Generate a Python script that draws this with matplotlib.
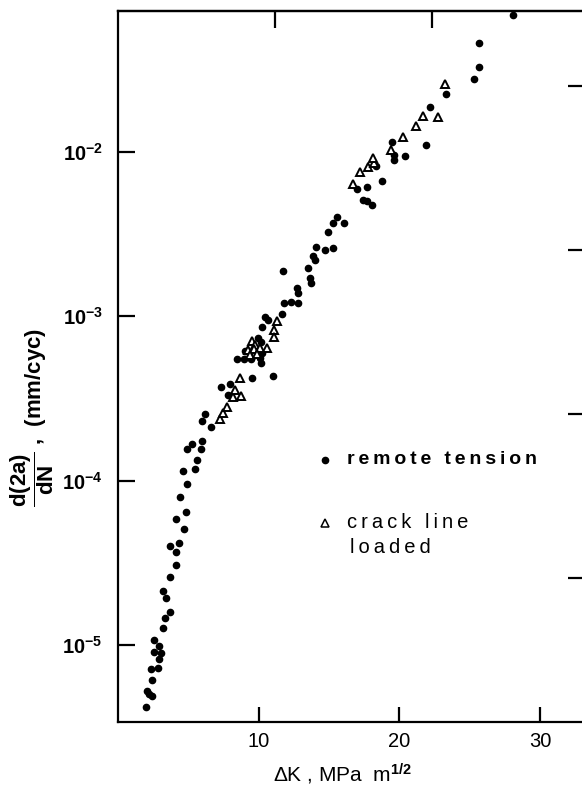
import numpy as np
import matplotlib
matplotlib.use('Agg')
import matplotlib.pyplot as plt
from matplotlib.ticker import NullLocator

plt.rcParams['font.family'] = ['Liberation Sans', 'DejaVu Sans']
plt.rcParams['mathtext.fontset'] = 'custom'
plt.rcParams['mathtext.rm'] = 'Liberation Sans'
plt.rcParams['mathtext.it'] = 'Liberation Sans:italic'
plt.rcParams['mathtext.bf'] = 'Liberation Sans:bold'

# remote tension (filled dots): delta K [MPa m^1/2], d(2a)/dN [mm/cyc]
dk_remote = [1.99, 2.08, 2.22, 2.42, 2.40, 2.35, 2.84, 2.94, 3.03, 2.54, 2.94, 2.54, 3.18, 3.36, 3.72, 3.43, 3.18, 3.72, 4.12,
             4.12, 3.70, 4.31, 4.71, 4.12, 4.83, 4.43, 4.88, 4.60, 5.47, 5.59, 5.88, 4.88, 5.26, 5.95, 5.97, 6.18, 6.61,
             7.32, 7.96, 7.84, 9.55, 11.00, 8.44, 8.96, 9.45, 10.18, 10.09, 9.03, 10.21, 9.97, 10.16, 10.21, 10.47, 10.68,
             11.66, 11.80, 12.27, 12.79, 12.70, 12.81, 11.75, 13.65, 13.72, 13.48, 13.88, 14.00, 14.07, 14.69, 15.30, 14.95, 15.26, 15.54, 16.08,
             17.68, 17.01, 17.39, 17.68, 18.03, 18.74, 18.34, 19.50, 19.64, 19.62, 20.40, 21.89, 22.17, 23.31, 25.28, 25.64, 25.66, 28.07]
rate_remote = [4.2e-6, 5.2e-6, 5.0e-6, 4.9e-6, 6.1e-6, 7.1e-6, 7.2e-6, 8.2e-6, 8.9e-6, 9.1e-6, 9.8e-6, 1.07e-5, 1.26e-5, 1.45e-5, 1.58e-5, 1.92e-5, 2.13e-5, 2.57e-5, 3.05e-5,
               3.66e-5, 4.01e-5, 4.18e-5, 5.07e-5, 5.81e-5, 6.46e-5, 7.91e-5, 9.48e-5, 1.14e-4, 1.17e-4, 1.33e-4, 1.56e-4, 1.56e-4, 1.68e-4, 1.74e-4, 2.31e-4, 2.53e-4, 2.11e-4,
               3.73e-4, 3.87e-4, 3.32e-4, 4.19e-4, 4.33e-4, 5.47e-4, 5.47e-4, 5.47e-4, 5.17e-4, 5.55e-4, 6.17e-4, 6.00e-4, 7.34e-4, 7.00e-4, 8.57e-4, 9.94e-4, 9.49e-4,
               1.04e-3, 1.20e-3, 1.22e-3, 1.20e-3, 1.48e-3, 1.38e-3, 1.88e-3, 1.70e-3, 1.59e-3, 1.98e-3, 2.33e-3, 2.20e-3, 2.64e-3, 2.52e-3, 2.59e-3, 3.26e-3, 3.71e-3, 4.04e-3, 3.71e-3,
               6.15e-3, 5.93e-3, 5.10e-3, 5.06e-3, 4.76e-3, 6.69e-3, 8.22e-3, 1.156e-2, 9.60e-3, 8.94e-3, 9.46e-3, 1.099e-2, 1.89e-2, 2.25e-2, 2.78e-2, 3.31e-2, 4.63e-2, 6.83e-2]

# crack line loaded (open triangles)
dk_crack = [7.22, 7.48, 7.73, 8.19, 8.71, 8.32, 8.67, 9.50, 9.77, 9.26, 9.67, 10.09, 10.61, 9.38, 9.89,
            11.32, 11.12, 11.11, 16.68, 17.20, 17.77, 18.19, 18.14, 19.38, 20.23, 21.18, 21.70, 22.74, 23.24]
rate_crack = [2.36e-4, 2.57e-4, 2.80e-4, 3.24e-4, 3.27e-4, 3.56e-4, 4.19e-4, 7.12e-4, 6.73e-4, 6.26e-4, 6.30e-4, 6.37e-4, 6.43e-4, 5.81e-4, 5.92e-4,
              9.40e-4, 8.30e-4, 7.51e-4, 6.36e-3, 7.59e-3, 8.14e-3, 8.64e-3, 9.16e-3, 1.028e-2, 1.24e-2, 1.44e-2, 1.66e-2, 1.63e-2, 2.58e-2]

x_ticks = [10, 20, 30]
x_ticks_top = [11.16, 22.32]
y_ticks = [1e-2, 1e-3, 1e-4, 1e-5]
y_tick_labels = [r'$\mathbf{10^{-2}}$', r'$\mathbf{10^{-3}}$', r'$\mathbf{10^{-4}}$', r'$\mathbf{10^{-5}}$']
in_ticks = [1e-3, 1e-4, 1e-5, 1e-6]

def spaced(s):
    '''
    open up the letters a little, like the typed original
    '''
    return '\u2009'.join(s)

fig = plt.figure(figsize=(5.82, 7.89), dpi=100)
ax = fig.add_axes([118/582, 67/789, 467/582, 711/789])

ax.plot(dk_remote, rate_remote, 'o', color='black', ms=4.5, clip_on=False, zorder=3)
ax.plot(dk_crack, rate_crack, '^', mfc='white', mec='black', mew=1.4, ms=6.2, clip_on=False, zorder=4)

ax.set_yscale('log')
ax.set_xlim(0, 33.2)
ax.set_ylim(10**-5.47, 10**-1.141)
ax.yaxis.set_minor_locator(NullLocator())

ax.set_xticks(x_ticks)
ax.set_xticklabels([str(t) for t in x_ticks], fontsize=14.5)
ax.set_yticks(y_ticks)
ax.set_yticklabels(y_tick_labels, fontsize=14.5)
ax.tick_params(axis='x', which='both', direction='in', length=11, width=1.6, pad=7, top=False)
ax.tick_params(axis='y', which='both', direction='in', length=12, width=1.6, pad=11, right=False)

top = ax.secondary_xaxis('top')
top.set_xticks(x_ticks_top)
top.tick_params(direction='in', length=12, width=1.6, labeltop=False)

right = ax.secondary_yaxis('right', functions=(lambda y: y / 25.4, lambda y: y * 25.4))
right.set_yticks(in_ticks)
right.yaxis.set_minor_locator(NullLocator())
right.tick_params(direction='in', length=12, width=1.6, labelright=False)

for s in ax.spines.values():
    s.set_linewidth(1.6)
top.spines['top'].set_linewidth(1.6)
right.spines['right'].set_linewidth(1.6)

ax.set_xlabel(r'$\Delta$K , MPa  m$^{\mathbf{1/2}}$', fontsize=15)
ax.xaxis.set_label_coords(0.48, -0.074)
ax.xaxis.label.set_va('center')

ax.set_ylabel(r'$\dfrac{\mathbf{d(2a)}}{\mathbf{dN}}$ ,  (mm/cyc)', fontsize=16, fontweight='bold')
ax.yaxis.set_label_coords(-0.184, 0.428)
ax.yaxis.label.set_va('center')

# key written inside the plot
ax.plot([0.443], [0.3685], 'o', color='black', ms=4.5, transform=ax.transAxes, clip_on=False)
ax.text(0.49, 0.3685, spaced('remote tension'), transform=ax.transAxes, fontsize=14,
        fontweight='bold', va='center', ha='left')
ax.plot([0.443], [0.280], '^', mfc='white', mec='black', mew=1.1, ms=5.5, transform=ax.transAxes, clip_on=False)
ax.text(0.49, 0.280, spaced('crack line'), transform=ax.transAxes, fontsize=14.5, va='center', ha='left')
ax.text(0.497, 0.246, spaced('loaded'), transform=ax.transAxes, fontsize=14.5, va='center', ha='left')

plt.savefig('out.png', dpi=100)
